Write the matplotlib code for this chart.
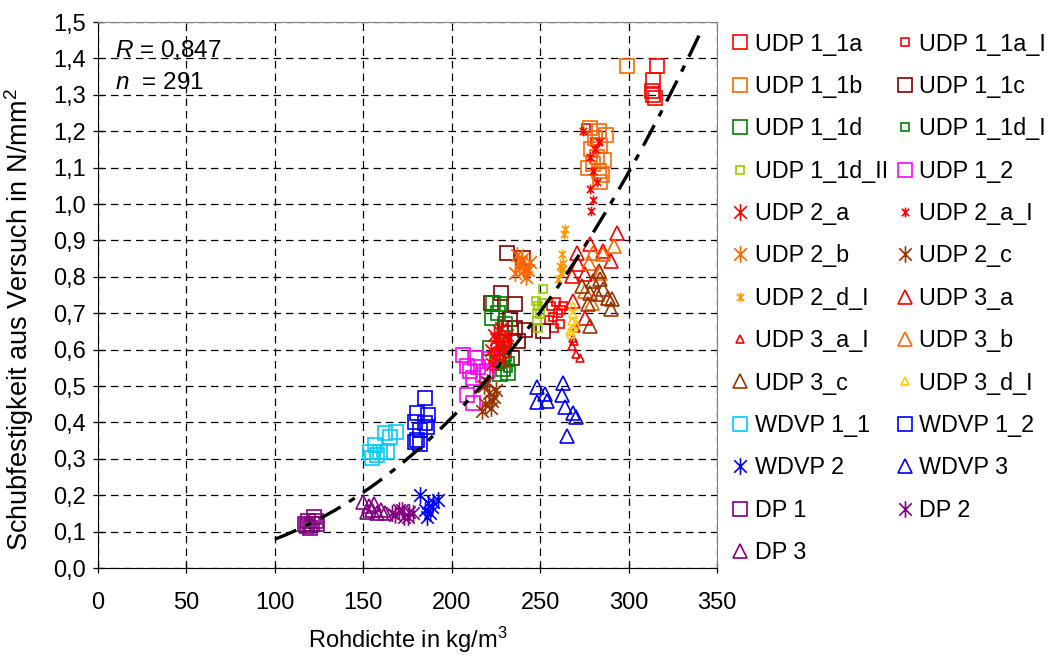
import numpy as np
import matplotlib
matplotlib.use("Agg")
import matplotlib.pyplot as plt
from matplotlib.path import Path
from matplotlib.ticker import FuncFormatter, MultipleLocator

plt.rcParams['font.family'] = ['Liberation Sans', 'DejaVu Sans']
plt.rcParams['mathtext.fontset'] = 'custom'
plt.rcParams['mathtext.rm'] = 'Liberation Sans'
plt.rcParams['mathtext.it'] = 'Liberation Sans:italic'

# --- data (Rohdichte kg/m3, Schubfestigkeit N/mm2) ---
udp_1_1a_x = [316, 314, 313, 315, 314]
udp_1_1a_y = [1.38, 1.34, 1.31, 1.29, 1.30]
udp_1_1a_i_x = [256, 259, 262, 257, 260, 255, 261, 258, 263, 276, 281]
udp_1_1a_i_y = [0.72, 0.73, 0.71, 0.69, 0.70, 0.68, 0.67, 0.66, 0.72, 1.21, 1.17]
udp_1_1b_x = [299, 278, 283, 287, 281, 284, 279, 282, 277, 283, 285, 280, 286, 284]
udp_1_1b_y = [1.38, 1.21, 1.20, 1.19, 1.18, 1.16, 1.15, 1.13, 1.10, 1.09, 1.08, 1.11, 1.12, 1.06]
udp_1_1c_x = [231.5, 228, 222, 236, 230, 236, 241.5, 234, 237.5, 233, 240.5, 251.8]
udp_1_1c_y = [0.866, 0.756, 0.729, 0.726, 0.658, 0.658, 0.655, 0.578, 0.625, 0.685, 0.852, 0.652]
udp_1_1d_x = [223.5, 227.5, 223, 226.4, 230.3, 228.6, 225.8, 229.2, 232, 227.5, 221.8]
udp_1_1d_y = [0.729, 0.726, 0.688, 0.701, 0.671, 0.584, 0.562, 0.548, 0.537, 0.534, 0.605]
udp_1_1d_i_x = [229, 231, 228, 232, 230, 233]
udp_1_1d_i_y = [0.60, 0.58, 0.56, 0.55, 0.62, 0.57]
udp_1_1d_ii_x = [251.8, 247.9, 249, 248.4, 250.1, 248.4, 249, 251.3]
udp_1_1d_ii_y = [0.767, 0.734, 0.721, 0.701, 0.699, 0.679, 0.658, 0.729]
udp_1_2_x = [206.6, 213.4, 208.8, 210.5, 215.1, 217.9, 220.1, 221.8, 212.2, 208.8, 212.2]
udp_1_2_y = [0.584, 0.578, 0.556, 0.542, 0.551, 0.529, 0.542, 0.575, 0.523, 0.474, 0.452]
udp_2_a_x = [222, 225, 227, 229, 224, 230, 223, 228, 231, 226, 227, 229, 232, 224]
udp_2_a_y = [0.60, 0.63, 0.65, 0.62, 0.58, 0.60, 0.56, 0.66, 0.64, 0.61, 0.59, 0.57, 0.63, 0.64]
udp_2_a_i_x = [274.5, 283, 281, 278, 280, 282, 278, 280, 279]
udp_2_a_i_y = [1.20, 1.17, 1.15, 1.13, 1.09, 1.06, 1.04, 1.01, 0.98]
udp_2_b_x = [240, 238, 243, 236, 242, 239, 244, 237, 241]
udp_2_b_y = [0.85, 0.83, 0.82, 0.81, 0.80, 0.84, 0.84, 0.86, 0.82]
udp_2_c_x = [218, 221, 223, 224, 217, 219, 225, 222, 220]
udp_2_c_y = [0.50, 0.48, 0.46, 0.47, 0.43, 0.45, 0.49, 0.44, 0.51]
udp_2_d_i_x = [263.7, 262.6, 261.5, 263.2, 260.3, 263.2, 264, 262]
udp_2_d_i_y = [0.918, 0.863, 0.830, 0.822, 0.795, 0.838, 0.93, 0.81]
udp_3_a_x = [293.2, 278.4, 271.1, 285.8, 289.8, 271.6, 268.2, 275.6, 268.8, 275.6]
udp_3_a_y = [0.921, 0.890, 0.866, 0.871, 0.844, 0.836, 0.803, 0.808, 0.734, 0.688]
udp_3_a_i_x = [270.5, 268.8, 268.2, 270, 272.8, 269.4]
udp_3_a_i_y = [0.66, 0.633, 0.611, 0.589, 0.578, 0.625]
udp_3_b_x = [291.5, 280.1, 277.9, 284.1, 285.8, 275.6, 279.5, 288.1]
udp_3_b_y = [0.885, 0.866, 0.838, 0.811, 0.863, 0.762, 0.729, 0.742]
udp_3_c_x = [283, 273.9, 280.1, 284.1, 278.4, 285.8, 288.6, 277.3, 289.8, 278.4, 290.9, 282.4]
udp_3_c_y = [0.816, 0.775, 0.789, 0.795, 0.756, 0.767, 0.742, 0.726, 0.712, 0.666, 0.740, 0.753]
udp_3_d_i_x = [268.8, 268.8, 268.2, 268.8, 267.7, 270, 267.1]
udp_3_d_i_y = [0.721, 0.699, 0.679, 0.66, 0.644, 0.671, 0.652]
wdvp_1_1_x = [168.6, 165.3, 162.4, 156.8, 153.9, 159.6, 163.6, 155.1, 157.9]
wdvp_1_1_y = [0.375, 0.359, 0.370, 0.337, 0.318, 0.318, 0.318, 0.301, 0.310]
wdvp_1_2_x = [185.1, 180.5, 186.8, 179.4, 185.1, 186.2, 182.2, 180.5, 182.2, 179.4]
wdvp_1_2_y = [0.468, 0.427, 0.419, 0.400, 0.397, 0.386, 0.378, 0.351, 0.342, 0.345]
wdvp_2_x = [182.2, 186.8, 189.6, 185.1, 187.9, 192.4, 186.2, 189]
wdvp_2_y = [0.20, 0.178, 0.181, 0.159, 0.151, 0.186, 0.14, 0.167]
wdvp_3_x = [248.4, 253, 248.4, 254.1, 263.2, 262.6, 264.3, 268.8, 265.4, 270]
wdvp_3_y = [0.496, 0.479, 0.455, 0.460, 0.507, 0.474, 0.441, 0.425, 0.364, 0.414]
dp_1_x = [117, 119, 121, 123, 120, 122, 118, 124]
dp_1_y = [0.12, 0.13, 0.12, 0.13, 0.11, 0.14, 0.115, 0.12]
dp_2_x = [166, 170, 173, 176, 178, 168, 172, 175]
dp_2_y = [0.15, 0.16, 0.14, 0.155, 0.15, 0.145, 0.16, 0.14]
dp_3_x = [150, 153, 155, 158, 160, 152, 156, 162]
dp_3_y = [0.18, 0.17, 0.16, 0.15, 0.16, 0.155, 0.175, 0.15]

# power-law fit drawn in the chart: y = fit_a * x^fit_b
fit_a = 0.079 / 100 ** 2.386
fit_b = 2.386
fit_x_range = (100, 340)

r_text = '0,847'
n_text = '291'

# Excel style asterisk: vertical bar plus an X
star = Path([(0, -1), (0, 1), (-0.75, -0.75), (0.75, 0.75), (-0.75, 0.75), (0.75, -0.75)],
            [Path.MOVETO, Path.LINETO] * 3)

BIG, SMALL = 10, 6
series = [
    ('UDP 1_1a', udp_1_1a_x, udp_1_1a_y, 's', BIG, '#FF0000'),
    ('UDP 1_1a_I', udp_1_1a_i_x, udp_1_1a_i_y, 's', SMALL, '#FF0000'),
    ('UDP 1_1b', udp_1_1b_x, udp_1_1b_y, 's', BIG, '#FF6600'),
    ('UDP 1_1c', udp_1_1c_x, udp_1_1c_y, 's', BIG, '#800000'),
    ('UDP 1_1d', udp_1_1d_x, udp_1_1d_y, 's', BIG, '#008000'),
    ('UDP 1_1d_I', udp_1_1d_i_x, udp_1_1d_i_y, 's', SMALL, '#008000'),
    ('UDP 1_1d_II', udp_1_1d_ii_x, udp_1_1d_ii_y, 's', SMALL, '#99CC00'),
    ('UDP 1_2', udp_1_2_x, udp_1_2_y, 's', BIG, '#FF00FF'),
    ('UDP 2_a', udp_2_a_x, udp_2_a_y, star, BIG + 2, '#FF0000'),
    ('UDP 2_a_I', udp_2_a_i_x, udp_2_a_i_y, star, SMALL + 1, '#FF0000'),
    ('UDP 2_b', udp_2_b_x, udp_2_b_y, star, BIG + 2, '#FF6600'),
    ('UDP 2_c', udp_2_c_x, udp_2_c_y, star, BIG + 2, '#993300'),
    ('UDP 2_d_I', udp_2_d_i_x, udp_2_d_i_y, star, SMALL + 1, '#FF9900'),
    ('UDP 3_a', udp_3_a_x, udp_3_a_y, '^', BIG, '#FF0000'),
    ('UDP 3_a_I', udp_3_a_i_x, udp_3_a_i_y, '^', SMALL, '#FF0000'),
    ('UDP 3_b', udp_3_b_x, udp_3_b_y, '^', BIG, '#FF6600'),
    ('UDP 3_c', udp_3_c_x, udp_3_c_y, '^', BIG, '#993300'),
    ('UDP 3_d_I', udp_3_d_i_x, udp_3_d_i_y, '^', SMALL, '#FFCC00'),
    ('WDVP 1_1', wdvp_1_1_x, wdvp_1_1_y, 's', BIG, '#00CCFF'),
    ('WDVP 1_2', wdvp_1_2_x, wdvp_1_2_y, 's', BIG, '#0000FF'),
    ('WDVP 2', wdvp_2_x, wdvp_2_y, star, BIG + 2, '#0000FF'),
    ('WDVP 3', wdvp_3_x, wdvp_3_y, '^', BIG, '#0000FF'),
    ('DP 1', dp_1_x, dp_1_y, 's', BIG, '#800080'),
    ('DP 2', dp_2_x, dp_2_y, star, BIG + 2, '#800080'),
    ('DP 3', dp_3_x, dp_3_y, '^', BIG, '#800080'),
]

fig = plt.figure(figsize=(10.56, 6.56), dpi=100)
ax = fig.add_axes([98 / 1056, 1 - 568 / 656, (717 - 98) / 1056, (568 - 22) / 656])

handles = []
for label, xs, ys, mk, ms, col in series:
    h, = ax.plot(xs, ys, linestyle='none', marker=mk, markersize=ms,
                 markerfacecolor='none', markeredgecolor=col, markeredgewidth=1.2,
                 label=label, zorder=3)
    handles.append(h)

fx = np.linspace(fit_x_range[0], fit_x_range[1], 200)
ax.plot(fx, fit_a * fx ** fit_b, color='black', lw=2.4, dashes=(7, 3, 2, 3), zorder=4)

ax.set_xlim(0, 350)
ax.set_ylim(0, 1.5)
ax.xaxis.set_major_locator(MultipleLocator(50))
ax.yaxis.set_major_locator(MultipleLocator(0.1))
ax.yaxis.set_major_formatter(FuncFormatter(lambda v, p: f'{v:.1f}'.replace('.', ',')))
ax.grid(True, color='black', linestyle=(0, (6, 4)), linewidth=0.9)
ax.set_axisbelow(True)
ax.tick_params(direction='inout', length=7, width=0.9, labelsize=17, color='black')
ax.tick_params(axis='x', pad=14)
ax.tick_params(axis='y', pad=5)
for s in ['left', 'bottom']:
    ax.spines[s].set_color('black')
for s in ['top', 'right']:
    ax.spines[s].set_color('#808080')

ax.set_xlabel('Rohdichte in kg/m$^3$', fontsize=17)
ax.xaxis.set_label_coords(0.5, -0.104)
ax.set_ylabel('Schubfestigkeit aus Versuch in N/mm$^2$', fontsize=19.5)
ax.yaxis.set_label_coords(-0.1, 0.454)

ax.text(0.027, 0.948, r'$\it{R}$ = ' + r_text, transform=ax.transAxes, fontsize=17.5, va='center')
ax.text(0.027, 0.888, r'$\it{n}$  = ' + n_text, transform=ax.transAxes, fontsize=17.5, va='center')

# legend read row by row: reorder for matplotlib's column-first fill
order = list(range(0, len(handles), 2)) + list(range(1, len(handles), 2))
fig.legend([handles[i] for i in order], [series[i][0] for i in order],
           loc='upper left', bbox_to_anchor=(726 / 1056, 1 - 28 / 656), ncol=2,
           frameon=False, fontsize=16.8, handlelength=0.8, handletextpad=0.24,
           columnspacing=0.3, labelspacing=0.83, borderaxespad=0, borderpad=0.2)

plt.savefig('out.png', dpi=100)
